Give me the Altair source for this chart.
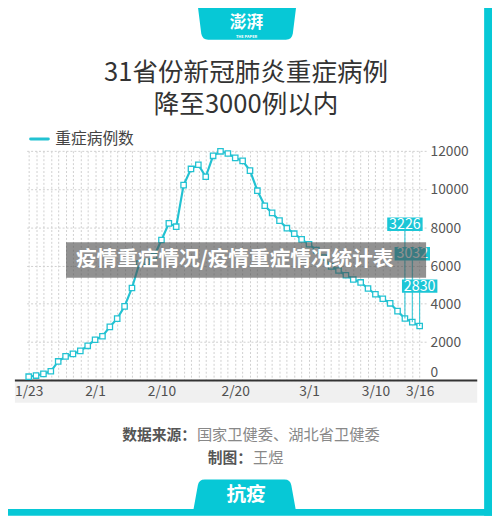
import altair as alt
import pandas as pd

# ---------------- data ----------------
dates = [f"{d.month}/{d.day}" for d in pd.date_range("2020-01-23", "2020-03-16")]
severe = [177, 237, 324, 461, 976, 1239, 1370, 1527, 1795,
          2110, 2296, 2788, 3219, 3859, 4821, 6101, 6188, 6484, 7333,
          8204, 8030, 10204, 11053, 11272, 10644, 11741, 11977, 11864, 11633,
          11477, 10968, 9915, 9126, 8752, 8346, 7952, 7664, 7365,
          7110, 6806, 6416, 5952, 5737, 5489, 5264, 5111, 4794, 4492,
          4257, 4020, 3610, 3226, 3032, 2830]
x_label_dates = ["1/23", "2/1", "2/10", "2/20", "3/1", "3/10", "3/16"]
y_ticks = [0, 2000, 4000, 6000, 8000, 10000, 12000]
ann_dates = ["3/14", "3/15", "3/16"]

title_lines = ["31省份新冠肺炎重症病例", "降至3000例以内"]
legend_label = "重症病例数"
source_label = "数据来源："
source_text = "国家卫健委、湖北省卫健委"
credit_label = "制图："
credit_text = "王煜"
banner_text = "疫情重症情况/疫情重症情况统计表"
logo_text = "澎湃"
logo_sub = "THE PAPER"
bottom_tab_text = "抗疫"

df = pd.DataFrame({"date": dates, "value": severe})
df["day"] = range(len(df))
one = pd.DataFrame({"k": [0]})

# ---------------- style ----------------
FONT = "Noto Sans CJK SC"
CYAN = "#07C8D6"
LINE = "#22C2D2"
BOX = "#1CC6D6"

label_map = {dates.index(d): d for d in x_label_dates}
label_expr = " : ".join(f"datum.value == {i} ? '{t}'" for i, t in label_map.items()) + " : ''"

x_scale = alt.Scale(domain=[-0.27, 53.87], nice=False, zero=False)
y_scale = alt.Scale(domain=[0, 12000], nice=False, zero=True)

x_axis = alt.Axis(values=list(df["day"]), labelExpr=label_expr, grid=True,
                  gridColor="#cfcfcf", gridDash=[2, 2], gridWidth=1,
                  ticks=False, tickSize=0, domain=False, labelFontSize=14,
                  labelColor="#555555", labelFont=FONT, labelPadding=5,
                  labelOverlap=False, labelFlush=False, labelBound=False, title=None)
y_axis = alt.Axis(orient="right", values=y_ticks, format="d", grid=True,
                  gridColor="#cfcfcf", gridDash=[2, 2], gridWidth=1,
                  ticks=False, tickSize=0, domain=False, labelFontSize=14,
                  labelColor="#555555", labelFont=FONT, labelPadding=4,
                  labelAlign="left", labelBaseline="middle",
                  labelOffset={"condition": {"test": "datum.value === 0", "value": -8}, "value": 1},
                  labelOverlap=False, labelFlush=False, labelBound=False, title=None)

x_enc = alt.X("day:Q", scale=x_scale, axis=x_axis)
y_enc = alt.Y("value:Q", scale=y_scale, axis=y_axis)


def txt(text, x, y, size, color, weight="normal", align="center", baseline="middle", **kw):
    return alt.Chart(one).mark_text(text=text, font=FONT, fontSize=size, color=color,
                                    fontWeight=weight, align=align, baseline=baseline, **kw
                                    ).encode(x=alt.value(x), y=alt.value(y))


def box(x, x2, y, y2, color, opacity=1.0):
    return alt.Chart(one).mark_rect(color=color, opacity=opacity).encode(
        x=alt.value(x), x2=alt.value(x2), y=alt.value(y), y2=alt.value(y2))


def shape(path, x, y, unit_px, color):
    return alt.Chart(one).mark_point(shape=path, size=(2 * unit_px) ** 2, filled=True,
                                     fill=color, color=color, opacity=1, strokeWidth=0
                                     ).encode(x=alt.value(x), y=alt.value(y))


HEADER_PATH = ("M-1.01,-0.4 L1.01,-0.4 L0.93,0.24 Q0.91,0.36 0.79,0.36 "
               "L-0.79,0.36 Q-0.91,0.36 -0.93,0.24 Z")
FOOTER_PATH = ("M-0.81,-0.31 Q-0.93,-0.31 -0.95,-0.19 L-1.05,0.36 L1.05,0.36 "
               "L0.95,-0.19 Q0.93,-0.31 0.81,-0.31 Z")
LABEL_BOX = "M-1,-0.38 L1,-0.38 L1,0.38 L-1,0.38 Z"

layers = []
# frame
layers.append(box(465, 473, -149, 371, CYAN))
layers.append(box(-27, 473, 364, 371, CYAN))
layers.append(shape(HEADER_PATH, 224, -131, 50, CYAN))
layers.append(txt(logo_text, 223.5, -129.5, 17, "white", weight="bold"))
layers.append(txt(logo_sub, 223.5, -116, 4, "white", weight="bold"))
layers.append(shape(FOOTER_PATH, 221.5, 349.5, 50, CYAN))
layers.append(txt(bottom_tab_text, 223, 350, 20, "white", weight="bold"))

# title
layers.append(txt(title_lines[0], 223, -79, 26, "#333333"))
layers.append(txt(title_lines[1], 223, -46.5, 26, "#333333"))

# legend
layers.append(alt.Chart(one).mark_rule(color=LINE, strokeWidth=3, strokeCap="round").encode(
    x=alt.value(4), x2=alt.value(22), y=alt.value(-12)))
layers.append(txt(legend_label, 29, -12, 16, "#444444", align="left"))

# hatched-looking band under the axis + axis line
layers.append(box(-12, 458, 234, 256, "#000000", opacity=0.06))
layers.append(alt.Chart(one).mark_rule(color="#333333", strokeWidth=2).encode(
    x=alt.value(-12), x2=alt.value(458), y=alt.value(233.5)))

# data
layers.append(alt.Chart(df).mark_line(color=LINE, strokeWidth=2.2).encode(x=x_enc, y=y_enc))
layers.append(alt.Chart(df).mark_point(shape="square", size=30, filled=True, fill="white",
                                       stroke=LINE, strokeWidth=1.3, opacity=1
                                       ).encode(x=x_enc, y=y_enc))

# annotations
ann_label_y = [74.5, 104.5, 137.5]
for d, ly in zip(ann_dates, ann_label_y):
    base = alt.Chart(df).transform_filter(alt.datum.date == d)
    layers.append(base.mark_rule(color=LINE, strokeWidth=1).encode(
        x=x_enc, y=y_enc, y2=alt.value(ly + 6)))
    layers.append(base.mark_point(shape=LABEL_BOX, size=36 ** 2, filled=True, fill=BOX,
                                  color=BOX, opacity=1, strokeWidth=0).encode(
        x=x_enc, y=alt.value(ly)))
    layers.append(base.mark_text(font=FONT, fontSize=14.5, color="white").encode(
        x=x_enc, y=alt.value(ly + 0.5), text=alt.Text("value:Q", format="d")))

# footer
layers.append(txt(source_label, 172, 289, 15, "#555555", weight="bold", align="right"))
layers.append(txt(source_text, 173, 289, 15.5, "#888888", align="left"))
layers.append(txt(credit_label, 229, 312, 15, "#555555", weight="bold", align="right"))
layers.append(txt(credit_text, 230, 312, 15.5, "#888888", align="left"))

# watermark banner overlay
layers.append(box(40, 406, 93, 129, "#4d4d4d", opacity=0.62))
layers.append(txt(banner_text, 50, 111, 21, "white", weight="bold", align="left"))

chart = alt.layer(*layers).properties(
    width=406, height=233,
    padding={"left": 19, "top": 141, "right": 67, "bottom": 138},
    autosize=alt.AutoSizeParams(type="none"),
    background="white",
).configure_view(stroke=None)

chart.save("out.html", embed_options={"renderer": "svg", "actions": False})
